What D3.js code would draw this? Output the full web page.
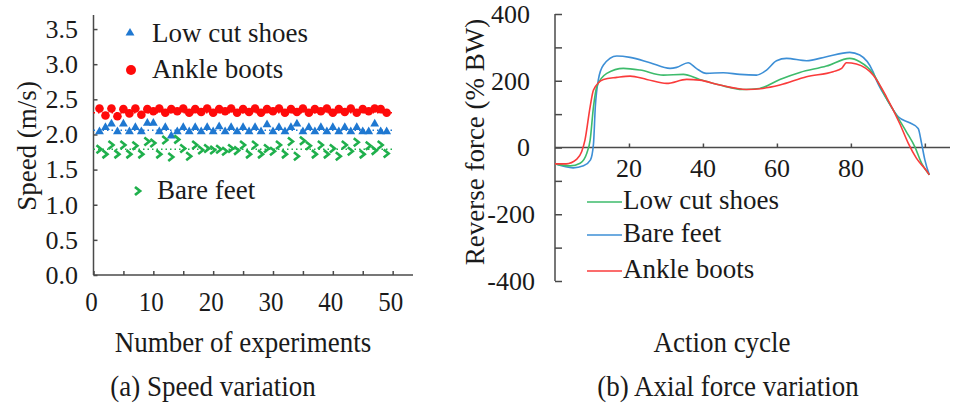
<!DOCTYPE html>
<html>
<head>
<meta charset="utf-8">
<script src="https://cdnjs.cloudflare.com/ajax/libs/d3/7.8.5/d3.min.js"></script>
<style>
    body { margin: 0; background: #fff; }
    .axis path, .axis line { stroke: #4a4a4a; stroke-width: 1.5; }
</style>
</head>
<body>
<svg id="chart"></svg>
<script>
// Data
// --------------------------------------------------------
    // (a) speed of each experiment, m/s
    const lowCutShoes = [
        2.04, 2.10, 2.15, 2.04, 2.15, 2.04, 2.10, 2.04, 2.16, 2.16,
        2.04, 2.10, 1.98, 2.04, 2.10, 2.04, 2.10, 2.04, 2.10, 2.04,
        2.11, 2.04, 2.10, 2.04, 2.10, 2.04, 2.10, 2.04, 2.14, 2.04,
        2.10, 2.04, 2.10, 2.15, 2.04, 2.10, 2.04, 2.10, 2.04, 2.10,
        2.04, 2.10, 2.04, 2.10, 2.04, 2.04, 2.15, 2.04, 2.04
    ];
    const ankleBoots = [
        2.37, 2.27, 2.37, 2.26, 2.36, 2.30, 2.37, 2.28, 2.36, 2.33,
        2.37, 2.31, 2.36, 2.33, 2.37, 2.31, 2.36, 2.32, 2.37, 2.31,
        2.36, 2.33, 2.37, 2.31, 2.36, 2.32, 2.37, 2.31, 2.36, 2.33,
        2.37, 2.31, 2.36, 2.32, 2.37, 2.31, 2.36, 2.33, 2.37, 2.31,
        2.36, 2.32, 2.37, 2.31, 2.36, 2.33, 2.37, 2.36, 2.31
    ];
    const bareFeet = [
        1.79, 1.72, 1.85, 1.72, 1.85, 1.72, 1.84, 1.72, 1.90, 1.88,
        1.72, 1.92, 1.68, 1.93, 1.80, 1.69, 1.85, 1.78, 1.80, 1.78,
        1.79, 1.76, 1.80, 1.77, 1.85, 1.72, 1.85, 1.72, 1.80, 1.76,
        1.85, 1.72, 1.90, 1.69, 1.91, 1.84, 1.72, 1.85, 1.72, 1.80,
        1.69, 1.85, 1.76, 1.89, 1.72, 1.84, 1.77, 1.85, 1.73
    ];
    const speedMeans = [2.06, 2.31, 1.79];

    // (b) reverse force over the action cycle, % BW
    const cycleLow = [0, 4.1, 6.8, 8.6, 9.5, 10.4, 11.3, 14, 18.5, 23, 29.3, 34.7, 39.1, 44.6, 50.8, 55.3, 60.8, 66.2, 73.4, 79.7, 82.4, 86, 89.6, 92.3, 95, 97.3, 99.1, 101.2];
    const forceLow = [-49, -55, -47, -17, 22, 122, 182, 222, 237, 232, 217, 219, 204, 187, 174, 177, 204, 225, 244, 267, 257, 222, 147, 97, 47, 2, -47, -82];

    const cycleBare = [0, 4.9, 7.7, 9.6, 10.4, 10.9, 11.7, 13.1, 16.7, 20.3, 25.7, 31.1, 32.9, 36, 38.2, 40.9, 45.5, 50, 54.5, 57.2, 59.9, 62.6, 68, 73.4, 79.7, 82.4, 86, 86.9, 89.6, 92.8, 95.9, 98.2, 99.1, 100, 101.2];
    const forceBare = [-49, -61, -55, -37, 10, 122, 202, 247, 274, 270, 254, 237, 240, 254, 237, 222, 224, 219, 217, 232, 260, 267, 260, 272, 285, 277, 227, 202, 147, 92, 74, 57, 13, -37, -82];

    const cycleBoots = [0, 3, 5.9, 7.2, 8.1, 9.5, 10.4, 13.1, 16.7, 20.3, 24.8, 30.2, 35.6, 39.1, 44.6, 51.7, 56.2, 60.8, 68, 75.2, 77.5, 78.8, 81.5, 86, 89.6, 93.2, 95.5, 97.7, 100.4, 101.2];
    const forceBoots = [-49, -49, -35, -13, 22, 122, 172, 204, 210, 214, 204, 192, 204, 202, 187, 174, 177, 187, 212, 227, 237, 254, 250, 217, 152, 72, 13, -32, -69, -82];

    const speedTicks = [0, 0.5, 1, 1.5, 2, 2.5, 3, 3.5];
    const experimentTicks = [0, 5, 10, 15, 20, 25, 30, 35, 40, 45, 50];
    const forceTicks = [-400, -300, -200, -100, 0, 100, 200, 300, 400];
    const cycleTicks = [20, 40, 60, 80, 100];

// 1. SVG canvas
    const width = 954;
    const height = 408;
    const serif = "'Liberation Serif', 'DejaVu Serif', 'Noto Serif', Times, serif";

    const svg = d3.select('#chart')
        .attr('width', width)
        .attr('height', height)
        .style('font-family', serif);

    const colors = {
        low: '#1f78d1',
        boots: '#ff0a0a',
        bare: '#1fb04c'
    };
    const lineColors = {
        low: '#3dbb6b',
        bare: '#3d8fd6',
        boots: '#fa3b3b'
    };

    // every label goes through here so the serif face is set on the element itself
    function label(g, x, y, size, str) {
        return g.append('text')
            .attr('x', x)
            .attr('y', y)
            .style('font-family', serif)
            .style('font-size', size + 'px')
            .attr('fill', '#1a1a1a')
            .text(str);
    }

    // the captions under the panels are a bit taller than they are wide
    function caption(g, x, y, str) {
        return label(g, 0, 0, 27, str)
            .attr('transform', `translate(${x},${y}) scale(1,1.12)`)
            .attr('text-anchor', 'middle');
    }

// 2. Scales
    const xSpeed = d3.scaleLinear().domain([0, 53.4]).range([93.5, 413]);
    const ySpeed = d3.scaleLinear().domain([0, 3.7]).range([275, 15]);

    const xCycle = d3.scaleLinear().domain([0, 106.8]).range([555, 950]);
    const yForce = d3.scaleLinear().domain([-400, 400]).range([281, 14]);

// 3. Axes, panel (a)
    const gA = svg.append('g');

    gA.append('g')
        .attr('class', 'axis')
        .attr('transform', `translate(${xSpeed(0)},0)`)
        .call(d3.axisRight(ySpeed).tickValues(speedTicks).tickSize(4).tickFormat(''))
        .call(g => g.select('.domain').attr('d', `M0,${ySpeed(3.7)}V${ySpeed(0)}`));

    speedTicks.forEach(d => {
        label(gA, 78, ySpeed(d), 26, d3.format('.1f')(d))
            .attr('dy', '0.34em')
            .attr('text-anchor', 'end');
    });

    gA.append('g')
        .attr('class', 'axis')
        .attr('transform', `translate(0,${ySpeed(0)})`)
        .call(d3.axisTop(xSpeed).tickValues(experimentTicks).tickSize(4).tickFormat(''))
        .call(g => g.select('.domain').attr('d', `M${xSpeed(0)},0H${xSpeed(53.4)}`));

    experimentTicks.filter(d => d % 10 === 0).forEach(d => {
        label(gA, 0, 0, 25, d)
            .attr('transform', `translate(${xSpeed(d) - 2},311) scale(1,1.1)`)
            .attr('text-anchor', 'middle');
    });

    label(gA, 0, 0, 27, 'Speed (m/s)')
        .attr('transform', 'translate(36,146) rotate(-90)')
        .attr('text-anchor', 'middle');
    caption(gA, 243, 352, 'Number of experiments');
    caption(gA, 213, 396, '(a) Speed variation');

// 4. Draw speed data
    const trendSeries = [
        { color: colors.low, mean: speedMeans[0] },
        { color: colors.boots, mean: speedMeans[1] },
        { color: colors.bare, mean: speedMeans[2] }
    ];
    gA.selectAll('.trend')
        .data(trendSeries)
        .enter()
        .append('line')
            .attr('x1', xSpeed(0))
            .attr('x2', xSpeed(50))
            .attr('y1', d => ySpeed(d.mean))
            .attr('y2', d => ySpeed(d.mean))
            .attr('stroke', d => d.color)
            .attr('stroke-width', 1.5)
            .attr('stroke-dasharray', '1.5,3');

    const triangle = d3.symbol().type(d3.symbolTriangle).size(34);
    const chevron = 'M-3,-4L2,0L-3,4';

    gA.selectAll('.low')
        .data(lowCutShoes)
        .enter()
        .append('path')
            .attr('d', triangle)
            .attr('transform', (d, i) => `translate(${xSpeed(i + 1)},${ySpeed(d)})`)
            .attr('fill', colors.low);

    gA.selectAll('.boots')
        .data(ankleBoots)
        .enter()
        .append('circle')
            .attr('cx', (d, i) => xSpeed(i + 1))
            .attr('cy', d => ySpeed(d))
            .attr('r', 4.3)
            .attr('fill', colors.boots);

    gA.selectAll('.bare')
        .data(bareFeet)
        .enter()
        .append('path')
            .attr('d', chevron)
            .attr('transform', (d, i) => `translate(${xSpeed(i + 1)},${ySpeed(d)})`)
            .attr('fill', 'none')
            .attr('stroke', colors.bare)
            .attr('stroke-width', 2.6);

    // legend (a)
    gA.append('path').attr('d', triangle).attr('transform', 'translate(130,33)').attr('fill', colors.low);
    label(gA, 152, 42, 27, 'Low cut shoes');
    gA.append('circle').attr('cx', 131).attr('cy', 70).attr('r', 5).attr('fill', colors.boots);
    label(gA, 152, 78, 27, 'Ankle boots');
    gA.append('path').attr('d', chevron).attr('transform', 'translate(138,191)')
        .attr('fill', 'none').attr('stroke', colors.bare).attr('stroke-width', 2.8);
    label(gA, 157, 199, 27, 'Bare feet');

// 5. Axes, panel (b)
    const gB = svg.append('g');

    gB.append('g')
        .attr('class', 'axis')
        .attr('transform', `translate(${xCycle(0)},0)`)
        .call(d3.axisRight(yForce).tickValues(forceTicks).tickSize(7).tickFormat(''))
        .call(g => g.select('.domain').attr('d', `M0,${yForce(400)}V${yForce(-400)}`));

    forceTicks.filter(d => d % 200 === 0).forEach(d => {
        label(gB, d < 0 ? 535 : 530, yForce(d), 26, d < 0 ? '-' + Math.abs(d) : d)
            .attr('dy', '0.34em')
            .attr('text-anchor', 'end');
    });

    gB.append('g')
        .attr('class', 'axis')
        .attr('transform', `translate(0,${yForce(0)})`)
        .call(d3.axisTop(xCycle).tickValues(cycleTicks).tickSize(4).tickFormat(''))
        .call(g => g.select('.domain').attr('d', `M${xCycle(0)},0H${xCycle(106.8)}`));

    cycleTicks.filter(d => d < 100).forEach(d => {
        label(gB, xCycle(d), 177, 26, d).attr('text-anchor', 'middle');
    });

    label(gB, 0, 0, 27, 'Reverse force (% BW)')
        .attr('transform', 'translate(484,142) rotate(-90)')
        .attr('text-anchor', 'middle');
    caption(gB, 722, 352, 'Action cycle');
    caption(gB, 728, 396, '(b) Axial force variation');

// 6. Draw force curves
    const curves = [
        { name: 'Low cut shoes', color: lineColors.low, t: cycleLow, f: forceLow, ly: 202 },
        { name: 'Bare feet', color: lineColors.bare, t: cycleBare, f: forceBare, ly: 235 },
        { name: 'Ankle boots', color: lineColors.boots, t: cycleBoots, f: forceBoots, ly: 271 }
    ];

    const line = d3.line()
        .x(d => xCycle(d[0]))
        .y(d => yForce(d[1]))
        .curve(d3.curveMonotoneX);

    gB.selectAll('.curve')
        .data([curves[1], curves[0], curves[2]])
        .enter()
        .append('path')
            .attr('d', d => line(d.t.map((t, i) => [t, d.f[i]])))
            .attr('fill', 'none')
            .attr('stroke', d => d.color)
            .attr('stroke-width', 1.6);

    // legend (b)
    curves.forEach(d => {
        gB.append('line')
            .attr('x1', 587).attr('x2', 622)
            .attr('y1', d.ly).attr('y2', d.ly)
            .attr('stroke', d.color)
            .attr('stroke-width', 1.6);
        label(gB, 623, d.ly + 7, 27, d.name);
    });
</script>
</body>
</html>
